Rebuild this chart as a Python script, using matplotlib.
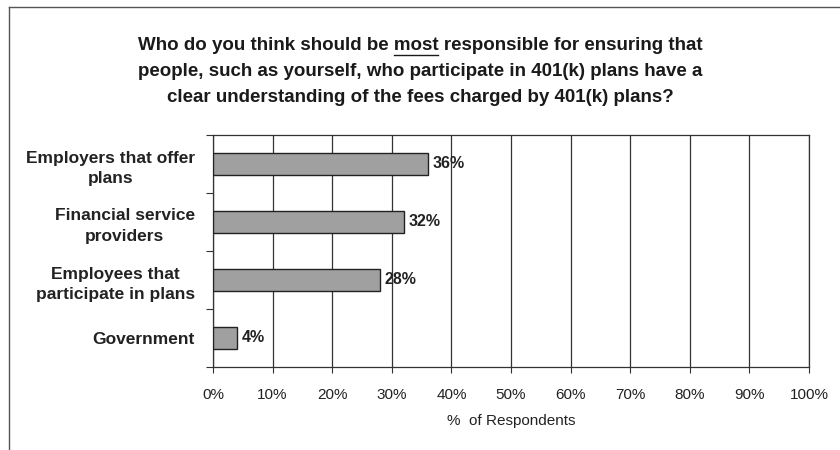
import matplotlib
matplotlib.use("Agg")
import matplotlib.pyplot as plt
from matplotlib.lines import Line2D
import numpy as np

plt.rcParams['font.family'] = ['Liberation Sans', 'DejaVu Sans']

categories = ["Employers that offer\nplans", "Financial service\nproviders",
              "Employees that\nparticipate in plans", "Government"]
values = [36, 32, 28, 4]
x_ticks = [0, 10, 20, 30, 40, 50, 60, 70, 80, 90, 100]
x_tick_labels = [f"{t}%" for t in x_ticks]
title_lines = ["Who do you think should be most responsible for ensuring that",
               "people, such as yourself, who participate in 401(k) plans have a",
               "clear understanding of the fees charged by 401(k) plans?"]

fig = plt.figure(figsize=(8.4, 4.5), dpi=100)
W, H = 840, 450
ax = fig.add_axes([213 / W, 1 - 367 / H, (809 - 213) / W, (367 - 135) / H])

y = np.arange(len(categories))
ax.barh(y, values, height=0.39, color='#a0a0a0', edgecolor='#222222', linewidth=1.0, zorder=3)
ax.set_ylim(len(categories) - 0.5, -0.5)
ax.set_xlim(0, 100)

for yi, v in zip(y, values):
    ax.text(v + 0.8, yi, f"{v}%", va='center', ha='left', fontsize=11.5,
            fontweight='bold', color='#222222', zorder=4)

ax.set_xticks(x_ticks)
ax.set_xticklabels(x_tick_labels, fontsize=11, color='#222222')
ax.tick_params(axis='x', length=4, width=0.8, color='#333333', pad=11)
ax.xaxis.grid(True, color='#333333', linewidth=0.9, zorder=0)
ax.set_axisbelow(True)

ax.set_yticks(y)
ax.set_yticklabels(categories, fontsize=12.5, fontweight='bold', color='#222222',
                   linespacing=1.45)
ax.tick_params(axis='y', length=0, pad=13)
ax.set_yticks(np.arange(-0.5, len(categories)), minor=True)
ax.tick_params(axis='y', which='minor', length=5, width=0.8, color='#333333')
for lab in ax.get_yticklabels():
    lab.set_horizontalalignment('right')
    lab.set_multialignment('center')

for s in ax.spines.values():
    s.set_color('#333333')
    s.set_linewidth(0.9)

ax.set_xlabel("%  of Respondents", fontsize=11, color='#222222', labelpad=9)

# Title, with "most" underlined
title_y = [45, 71, 97]
tsize = 13.5
for line, ty in zip(title_lines, title_y):
    fig.text(0.5, 1 - ty / H, line, ha='center', va='center', fontsize=tsize,
             fontweight='bold', color='#1a1a1a')

fig.canvas.draw()
renderer = fig.canvas.get_renderer()
full = fig.text(0, 0, title_lines[0], fontsize=tsize, fontweight='bold')
pre = fig.text(0, 0, "Who do you think should be ", fontsize=tsize, fontweight='bold')
word = fig.text(0, 0, "most", fontsize=tsize, fontweight='bold')
w_full = full.get_window_extent(renderer).width
w_pre = pre.get_window_extent(renderer).width
w_word = word.get_window_extent(renderer).width
for t in (full, pre, word):
    t.remove()
x0 = W / 2 - w_full / 2 + w_pre
uy = 1 - (title_y[0] + 10) / H
fig.add_artist(Line2D([x0 / W, (x0 + w_word) / W], [uy, uy], transform=fig.transFigure,
                      color='#1a1a1a', linewidth=1.0))

# Outer frame lines (top and left)
fig.add_artist(Line2D([9 / W, 1.0], [1 - 7 / H, 1 - 7 / H], transform=fig.transFigure,
                      color='#555555', linewidth=1.0))
fig.add_artist(Line2D([9 / W, 9 / W], [0, 1 - 7 / H], transform=fig.transFigure,
                      color='#555555', linewidth=1.0))

fig.savefig("out.png", dpi=100, facecolor='white')
